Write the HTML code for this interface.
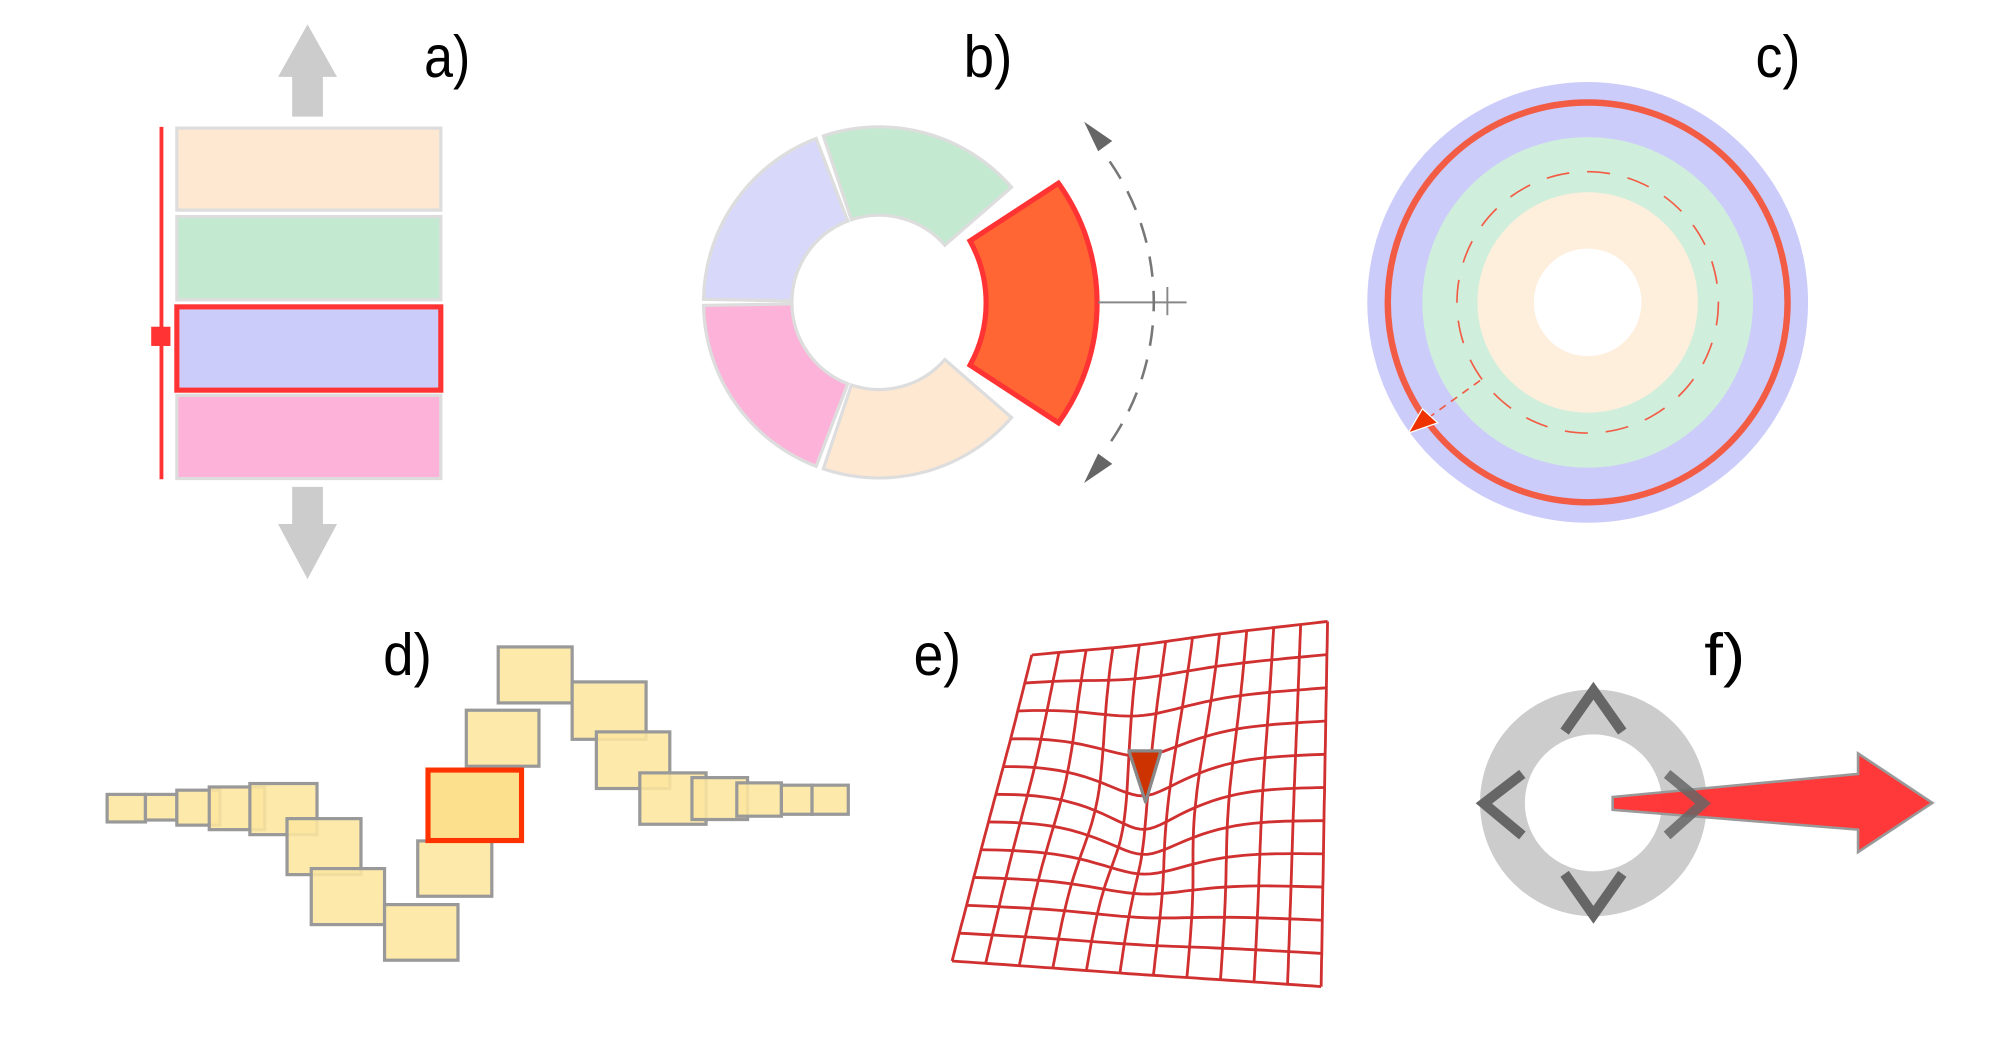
<!DOCTYPE html>
<html><head><meta charset="utf-8"><style>
html,body{margin:0;padding:0;background:#fff;}
svg{display:block;}
text{font-family:"Liberation Sans",sans-serif;font-size:46px;fill:#000;}
</style></head><body>
<svg id="s" width="1999" height="1054" viewBox="0 0 1560 822.6" preserveAspectRatio="none" xmlns="http://www.w3.org/2000/svg">
<!-- labels -->
<text x="331" y="60" textLength="36" lengthAdjust="spacingAndGlyphs">a)</text>
<text x="752" y="60" textLength="38" lengthAdjust="spacingAndGlyphs">b)</text>
<text x="1370" y="60" textLength="35" lengthAdjust="spacingAndGlyphs">c)</text>
<text x="299" y="527" textLength="38" lengthAdjust="spacingAndGlyphs">d)</text>
<text x="713" y="527" textLength="37" lengthAdjust="spacingAndGlyphs">e)</text>
<text x="1330" y="527" textLength="32" lengthAdjust="spacingAndGlyphs">f)</text>

<!-- a -->
<polygon points="240,19 263,60 252,60 252,91 228,91 228,60 217,60" fill="#cccccc"/>
<polygon points="228,380 252,380 252,409 263,409 240,452 217,409 228,409" fill="#cccccc"/>
<rect x="138" y="100" width="206" height="64" fill="#fee8d2" stroke="#dddddd" stroke-width="2.5"/>
<rect x="138" y="169" width="206" height="65" fill="#c3e9d0" stroke="#dddddd" stroke-width="2.5"/>
<rect x="138" y="308.5" width="206" height="65" fill="#fdb3d9" stroke="#dddddd" stroke-width="2.5"/>
<rect x="138" y="239.5" width="206" height="65" fill="#ccccfa" stroke="#ff3333" stroke-width="4"/>
<line x1="126" y1="99" x2="126" y2="374" stroke="#ff3333" stroke-width="3"/>
<rect x="118" y="255" width="15" height="15" fill="#ff3333"/>

<!-- b -->
<g id="donut"></g>
<path d="M757,188 L826,143 A160,160 0 0,1 826,330 L757,285 A100,100 0 0,0 757,188 Z" fill="#ff6633" stroke="#ff3333" stroke-width="4" stroke-linejoin="miter"/>
<line x1="857" y1="236" x2="926" y2="236" stroke="#888" stroke-width="1.5"/>
<line x1="911" y1="224" x2="911" y2="246" stroke="#888" stroke-width="1.5"/>
<path d="M866,126 A193,193 0 0,1 866,346" fill="none" stroke="#777" stroke-width="2" stroke-dasharray="16,11"/>
<polygon points="846,95 868,110 857,118" fill="#666"/>
<polygon points="846,377 868,362 857,354" fill="#666"/>

<!-- c -->
<circle cx="1239" cy="236" r="172" fill="#ccccfa"/>
<circle cx="1239" cy="236" r="156" fill="none" stroke="#f25c45" stroke-width="5"/>
<circle cx="1239" cy="236" r="129" fill="#d0eedc"/>
<circle cx="1239" cy="236" r="86" fill="#feeedc"/>
<circle cx="1239" cy="236" r="42" fill="#ffffff"/>
<circle cx="1239" cy="236" r="102" fill="none" stroke="#f25c45" stroke-width="1.3" stroke-dasharray="18,14"/>
<line x1="1155" y1="297" x2="1112" y2="328" stroke="#f25c45" stroke-width="1.3" stroke-dasharray="6,5"/>
<polygon points="1099,338 1110,319 1122,330" fill="#ee3300" stroke="#fff" stroke-width="1"/>

<!-- d -->
<g id="dd" fill="#fde69e" fill-opacity="0.88" stroke="#999" stroke-width="2.5"></g>

<!-- e -->
<g id="grid" fill="none" stroke="#d03030" stroke-width="2.2"></g>
<polygon points="881,586 906,586 894,626" fill="#cc3300" stroke="#888" stroke-width="2.5" stroke-linejoin="round"/>

<!-- f -->
<circle cx="1243.5" cy="626.6" r="71" fill="none" stroke="#cccccc" stroke-width="35"/>
<g stroke="#666" stroke-width="8" fill="none" stroke-linejoin="miter">
<polyline points="1221,571 1243.5,539 1266,571"/>
<polyline points="1221,682 1243.5,714 1266,682"/>
<polyline points="1188,604 1158,627 1188,652"/>
</g>
<polygon points="1258.5,622 1450,604 1450,588 1508,626.6 1450,665 1450,647.5 1258.5,632" fill="#ff3333" stroke="#999" stroke-width="2" fill-opacity="0.97"/>
<polyline points="1301,604 1329,627 1301,652" stroke="#666" stroke-width="8" fill="none" stroke-opacity="0.85"/>
</svg>
<script>
var NS="http://www.w3.org/2000/svg";
function el(p,t,a){var e=document.createElementNS(NS,t);for(var k in a)e.setAttribute(k,a[k]);p.appendChild(e);return e;}
(function(){
var g=document.getElementById("donut"),cx=686,cy=236,R=137,r=68;
function P(rad,deg){var a=deg*Math.PI/180;return [cx+rad*Math.cos(a),cy-rad*Math.sin(a)];}
var segs=[[41,108.5,"#c3e9d0"],[111,179,"#d8d8fa"],[181,249,"#fdb3d9"],[251.5,319,"#fee8d2"]];
segs.forEach(function(s){
var a=P(R,s[0]),b=P(R,s[1]),c=P(r,s[1]),d=P(r,s[0]);
var d0="M"+a+" A"+R+","+R+" 0 0,0 "+b+" L"+c+" A"+r+","+r+" 0 0,1 "+d+" Z";
el(g,"path",{d:d0,fill:s[2],stroke:"#dddddd","stroke-width":2.5});
});
})();
(function(){
var g=document.getElementById("dd");
var R=[[83.6,620,113.5,641.5],[113.5,620,138,640],[138,616.7,171.7,644],[163.3,614.2,206.6,647.5],[195,611.5,247.4,651.4],[224,638.9,281.7,682.6],[242.9,677.9,300.1,721.6],[300.1,706,357.4,749.4],[326,656.3,383.8,699.5],[363.9,554.3,420.6,598],[388.8,504.9,446.5,548.6],[446.5,532.2,504.2,577],[465.4,571.2,522.7,615.4],[499.3,603.2,551,643.3],[540,606.9,583.4,639.6],[575,611,609.8,637],[609.8,612.8,633.7,635.5],[633.7,612.8,662,635.5]];
R.forEach(function(q){el(g,"rect",{x:q[0],y:q[1],width:q[2]-q[0],height:q[3]-q[1]});});
el(g,"rect",{x:334,y:601,width:73,height:55,fill:"#fde08e","fill-opacity":1,stroke:"#ff3300","stroke-width":4});
})();
(function(){
var g=document.getElementById("grid");
var TL=[805,511],TR=[1036,485],BR=[1031,770],BL=[743,750],N=11;
function pt(u,v){
var x=(1-u)*(1-v)*TL[0]+u*(1-v)*TR[0]+u*v*BR[0]+(1-u)*v*BL[0];
var y=(1-u)*(1-v)*TL[1]+u*(1-v)*TR[1]+u*v*BR[1]+(1-u)*v*BL[1];
var dx=x-893,dy=y-615;
var w=Math.exp(-(dx*dx)/(2*38*38)-(dy*dy)/(2*48*48));
return [(x-0.35*dx*w).toFixed(1),(y+30*w).toFixed(1)];
}
for(var i=0;i<=N;i++){
var a=[],b=[];
for(var j=0;j<=44;j++){a.push(pt(i/N,j/44).join(","));b.push(pt(j/44,i/N).join(","));}
el(g,"polyline",{points:a.join(" ")});
el(g,"polyline",{points:b.join(" ")});
}
})();
</script>
</body></html>
